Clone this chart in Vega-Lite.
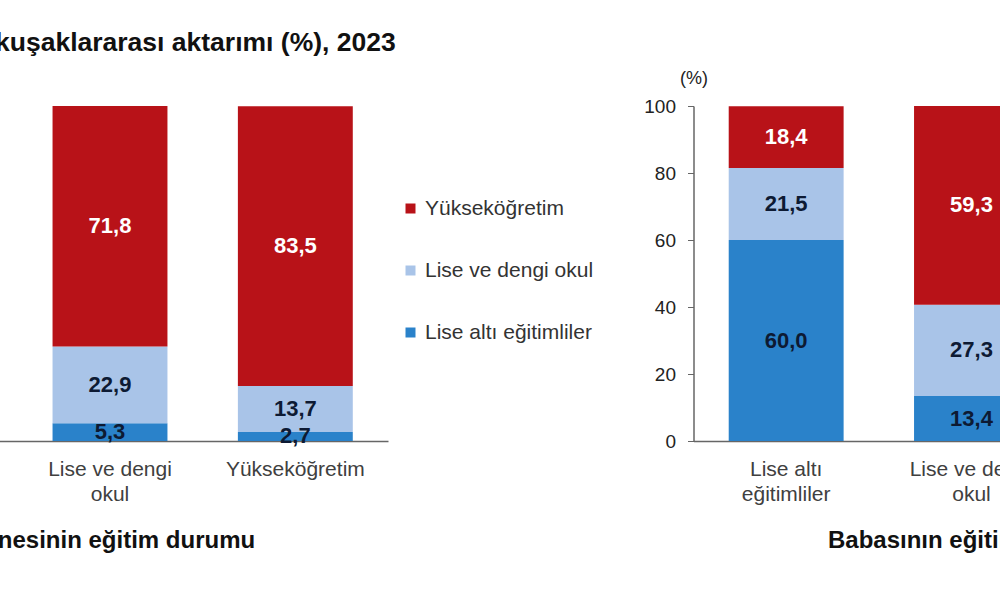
{
  "$schema": "https://vega.github.io/schema/vega-lite/v6.json",
  "background": "white",
  "padding": {"left": -168, "right": -250, "top": 29, "bottom": 20},
  "title": {"text": "kuşaklararası aktarımı (%), 2023", "anchor": "start", "dx": 163, "fontSize": 26.5, "fontWeight": "bold", "color": "#111111", "font": "Liberation Sans", "offset": 13},
  "config": {
    "font": "Liberation Sans",
    "view": {"stroke": null},
    "locale": {"number": {"decimal": ",", "thousands": ".", "grouping": [3], "currency": ["", " TL"]}}
  },
  "data": {"values": [
    {"panel": "anne", "group": "Lise ve dengi okul", "level": "Lise altı eğitimliler", "value": 5.3},
    {"panel": "anne", "group": "Lise ve dengi okul", "level": "Lise ve dengi okul", "value": 22.9},
    {"panel": "anne", "group": "Lise ve dengi okul", "level": "Yükseköğretim", "value": 71.8},
    {"panel": "anne", "group": "Yükseköğretim", "level": "Lise altı eğitimliler", "value": 2.7},
    {"panel": "anne", "group": "Yükseköğretim", "level": "Lise ve dengi okul", "value": 13.7},
    {"panel": "anne", "group": "Yükseköğretim", "level": "Yükseköğretim", "value": 83.5},
    {"panel": "baba", "group": "Lise altı eğitimliler", "level": "Lise altı eğitimliler", "value": 60.0},
    {"panel": "baba", "group": "Lise altı eğitimliler", "level": "Lise ve dengi okul", "value": 21.5},
    {"panel": "baba", "group": "Lise altı eğitimliler", "level": "Yükseköğretim", "value": 18.4},
    {"panel": "baba", "group": "Lise ve dengi okul", "level": "Lise altı eğitimliler", "value": 13.4},
    {"panel": "baba", "group": "Lise ve dengi okul", "level": "Lise ve dengi okul", "value": 27.3},
    {"panel": "baba", "group": "Lise ve dengi okul", "level": "Yükseköğretim", "value": 59.3}
  ]},
  "spacing": 305.5,
  "bounds": "flush",
  "resolve": {"legend": {"color": "independent"}},
  "hconcat": [
    {
      "width": 556,
      "height": 335,
      "transform": [{"filter": "datum.panel === 'anne'"}],
      "layer": [
        {
          "mark": {"type": "bar"},
          "encoding": {
            "x": {"field": "group", "type": "nominal",
              "scale": {"domain": ["Lise altı eğitimliler", "Lise ve dengi okul", "Yükseköğretim"], "paddingInner": 0.38, "paddingOuter": 0.19},
              "axis": {"title": "Annesinin eğitim durumu", "labelAngle": 0, "ticks": false, "domainColor": "#666666", "domainWidth": 1.5,
                "labelFontSize": 21, "labelColor": "#404040", "labelLineHeight": 25, "labelPadding": 17,
                "labelExpr": "indexof(datum.label, ' ') > 0 ? [slice(datum.label, 0, lastindexof(datum.label, ' ')), slice(datum.label, lastindexof(datum.label, ' ') + 1)] : datum.label",
                "titleFontSize": 24, "titleFontWeight": "bold", "titleColor": "#111111", "titlePadding": 24}},
            "y": {"field": "value", "type": "quantitative", "stack": "zero", "scale": {"domain": [0, 100]}, "axis": null},
            "color": {"field": "level", "type": "nominal",
              "scale": {"domain": ["Yükseköğretim", "Lise ve dengi okul", "Lise altı eğitimliler"], "range": ["#B81218", "#A9C4E8", "#2A82CA"]},
              "legend": {"title": null, "orient": "none", "legendX": 568, "legendY": 92, "symbolType": "square", "symbolSize": 100, "symbolStrokeWidth": 0,
                "labelFontSize": 21, "labelColor": "#333333", "rowPadding": 40, "labelOffset": 4, "labelLimit": 400}},
            "order": {"field": "level", "sort": "ascending"}
          }
        },
        {
          "transform": [
            {"stack": "value", "groupby": ["group"], "sort": [{"field": "level", "order": "ascending"}], "as": ["y0", "y1"]},
            {"fold": ["y0", "y1"], "as": ["k", "v"]},
            {"aggregate": [{"op": "mean", "field": "v", "as": "mid"}], "groupby": ["group", "level", "value"]}
          ],
          "mark": {"type": "text", "fontSize": 22, "fontWeight": "bold", "baseline": "middle"},
          "encoding": {
            "x": {"field": "group", "type": "nominal"},
            "y": {"field": "mid", "type": "quantitative", "scale": {"domain": [0, 100]}, "axis": null},
            "text": {"field": "value", "type": "quantitative", "format": ".1f"},
            "color": {"condition": {"test": "datum.level === 'Yükseköğretim'", "value": "#ffffff"}, "value": "#0d1a33"}
          }
        }
      ]
    },
    {
      "width": 556,
      "height": 335,
      "transform": [{"filter": "datum.panel === 'baba'"}],
      "layer": [
        {
          "mark": {"type": "bar"},
          "encoding": {
            "x": {"field": "group", "type": "nominal",
              "scale": {"domain": ["Lise altı eğitimliler", "Lise ve dengi okul", "Yükseköğretim"], "paddingInner": 0.38, "paddingOuter": 0.19},
              "axis": {"title": "Babasının eğitim durumu", "labelAngle": 0, "ticks": false, "domainColor": "#666666", "domainWidth": 1.5,
                "labelFontSize": 21, "labelColor": "#404040", "labelLineHeight": 25, "labelPadding": 17,
                "labelExpr": "indexof(datum.label, ' ') > 0 ? [slice(datum.label, 0, lastindexof(datum.label, ' ')), slice(datum.label, lastindexof(datum.label, ' ') + 1)] : datum.label",
                "titleFontSize": 24, "titleFontWeight": "bold", "titleColor": "#111111", "titlePadding": 24}},
            "y": {"field": "value", "type": "quantitative", "stack": "zero", "scale": {"domain": [0, 100]},
              "axis": {"values": [0, 20, 40, 60, 80, 100], "grid": false, "tickSize": 6, "tickColor": "#666666", "domainColor": "#666666", "domainWidth": 1.5,
                "labelFontSize": 19, "labelColor": "#222222", "labelPadding": 12,
                "title": "(%)", "titleAngle": 0, "titleX": 0, "titleY": -28, "titleAlign": "center", "titleBaseline": "middle",
                "titleFontSize": 18, "titleFontWeight": "normal", "titleColor": "#222222"}},
            "color": {"field": "level", "type": "nominal",
              "scale": {"domain": ["Yükseköğretim", "Lise ve dengi okul", "Lise altı eğitimliler"], "range": ["#B81218", "#A9C4E8", "#2A82CA"]},
              "legend": null},
            "order": {"field": "level", "sort": "ascending"}
          }
        },
        {
          "transform": [
            {"stack": "value", "groupby": ["group"], "sort": [{"field": "level", "order": "ascending"}], "as": ["y0", "y1"]},
            {"fold": ["y0", "y1"], "as": ["k", "v"]},
            {"aggregate": [{"op": "mean", "field": "v", "as": "mid"}], "groupby": ["group", "level", "value"]}
          ],
          "mark": {"type": "text", "fontSize": 22, "fontWeight": "bold", "baseline": "middle"},
          "encoding": {
            "x": {"field": "group", "type": "nominal"},
            "y": {"field": "mid", "type": "quantitative", "scale": {"domain": [0, 100]}},
            "text": {"field": "value", "type": "quantitative", "format": ".1f"},
            "color": {"condition": {"test": "datum.level === 'Yükseköğretim'", "value": "#ffffff"}, "value": "#0d1a33"}
          }
        }
      ]
    }
  ]
}
